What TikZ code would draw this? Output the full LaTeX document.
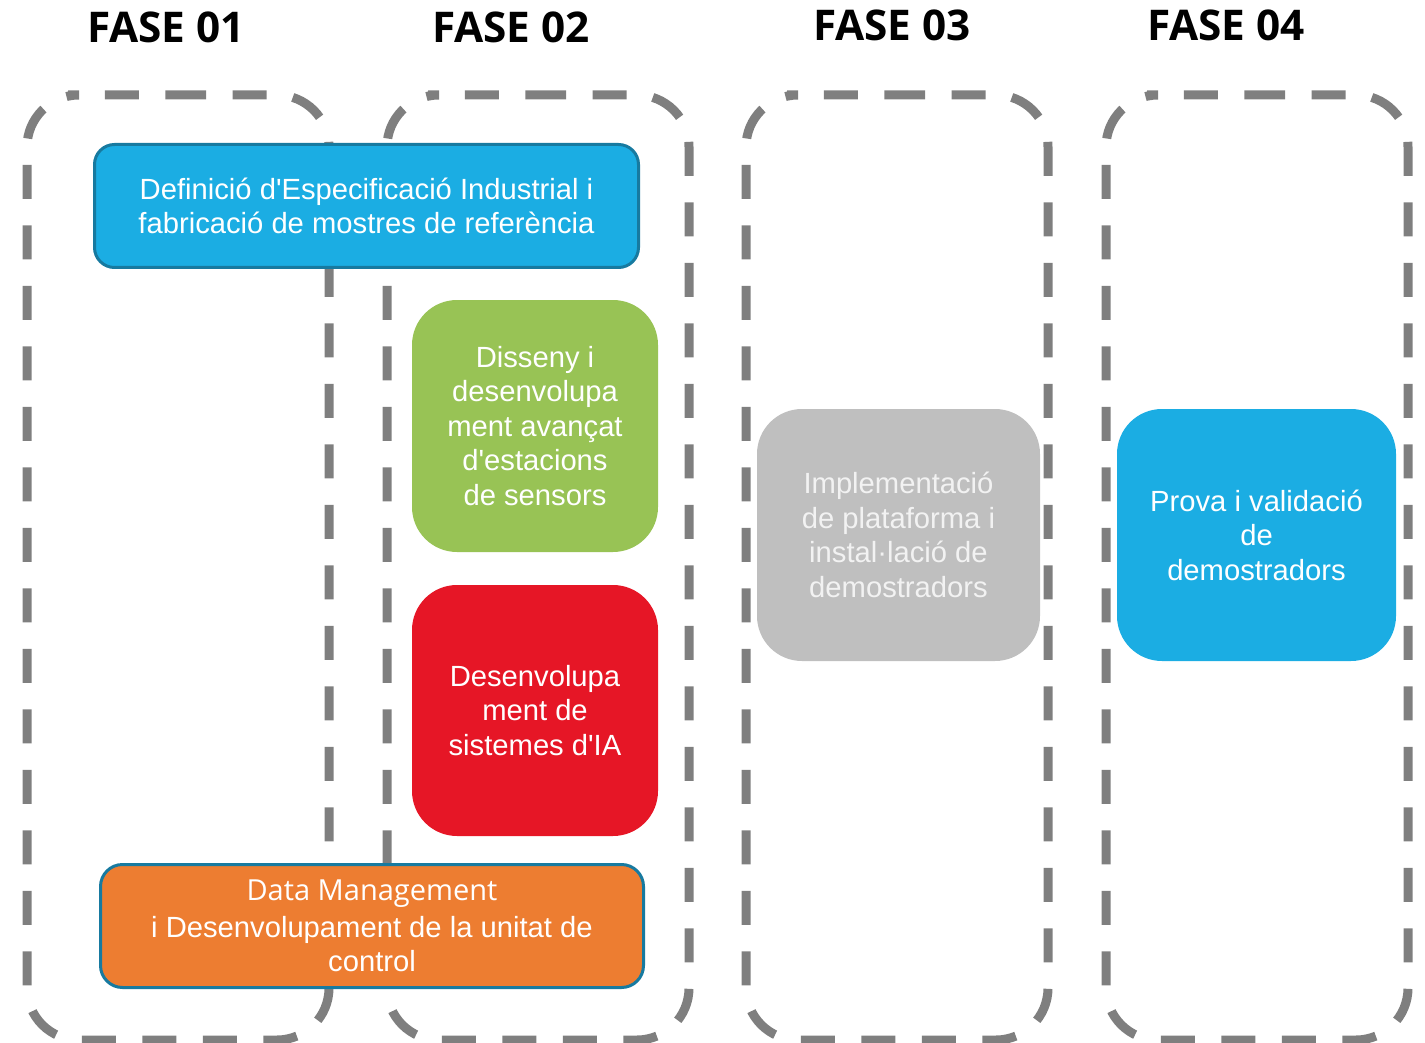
\documentclass[tikz,border=0pt]{standalone}
\usepackage{fontspec}
\setmainfont{Liberation Sans}[Ligatures=TeXOff]
\newfontfamily\headfont{Open Sans}
\newfontfamily\dmfont{Open Sans}[Ligatures=TeXOff]
\definecolor{framegray}{RGB}{127,127,127}
\definecolor{bblue}{RGB}{27,173,227}
\definecolor{bborder}{RGB}{23,122,160}
\definecolor{bgreen}{RGB}{152,195,85}
\definecolor{bred}{RGB}{230,22,38}
\definecolor{bgray}{RGB}{191,191,191}
\definecolor{bgraytext}{RGB}{242,242,242}
\definecolor{borange}{RGB}{237,125,49}
\begin{document}
\begin{tikzpicture}[x=1pt,y=-1pt,
  frame/.style={draw=framegray, line width=9pt, dash pattern=on 34pt off 26.5pt, rounded corners=52pt},
  phase/.style={font=\headfont\bfseries\fontsize{42.3}{50}\selectfont, anchor=base, inner sep=0pt},
  box/.style={rectangle, rounded corners=#1, text=white, align=center, inner sep=0pt,
    font=\fontsize{29.2}{34.5}\selectfont},
  edged/.style={draw=bborder, line width=3pt}
]
\useasboundingbox (0,0) rectangle (1425,1043);
% phase headers
\node[phase] (h1) at (166,43) {FASE 01};
\node[phase] (h2) at (511,43) {FASE 02};
\node[phase] (h3) at (892,41) {FASE 03};
\node[phase] (h4) at (1226,41) {FASE 04};
% dashed frames
\foreach \xl/\xr in {27/329, 387/689, 746/1048, 1106/1408}{
  \draw[frame] (\xl+93,95) -- (\xr,95) -- (\xr,1040) -- (\xl,1040) -- (\xl,95) -- cycle;
}
% boxes
\node[box=20pt, edged, fill=bblue, minimum width=544pt, minimum height=123pt] (spec) at (366.5,206)
  {Definició d'Especificació Industrial i\\fabricació de mostres de referència};
\node[box=45pt, fill=bgreen, minimum width=246pt, minimum height=252pt] (sens) at (535,426)
  {Disseny i\\desenvolupa\\ment avançat\\d'estacions\\de sensors};
\node[box=45pt, fill=bred, minimum width=246pt, minimum height=251pt] (ia) at (535,710.5)
  {Desenvolupa\\ment de\\sistemes d'IA};
\node[box=45pt, fill=bgray, text=bgraytext, minimum width=283pt, minimum height=252pt] (impl) at (898.5,535)
  {Implementació\\de plataforma i\\instal·lació de\\demostradors};
\node[box=45pt, fill=bblue, minimum width=279pt, minimum height=252pt] (prova) at (1256.5,535)
  {Prova i validació\\de\\demostradors};
\node[box=22pt, edged, fill=borange, minimum width=543pt, minimum height=123pt] (data) at (372,926)
  {{\dmfont\fontsize{29}{34.5}\selectfont Data Management}\\[2pt]i Desenvolupament de la unitat de\\control};
\end{tikzpicture}
\end{document}
